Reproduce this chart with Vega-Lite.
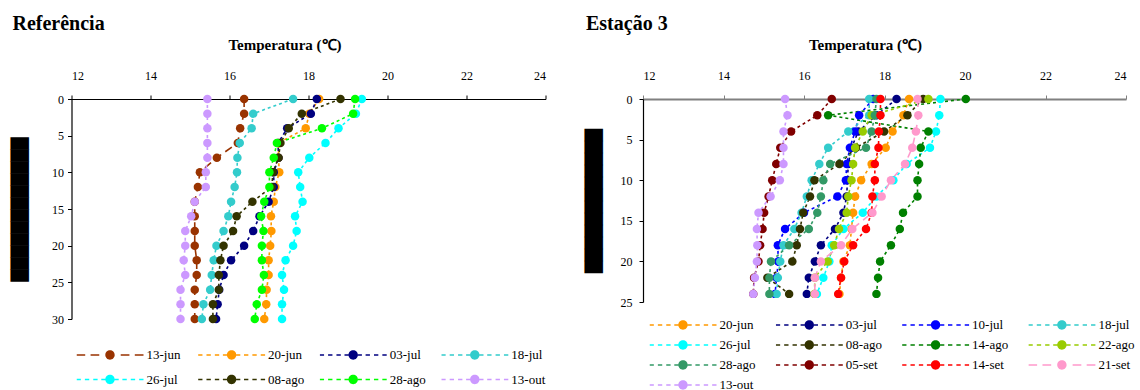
{
  "$schema": "https://vega.github.io/schema/vega-lite/v6.json",
  "background": "white",
  "padding": {"left": 12.5, "top": 13, "right": 0, "bottom": 0},
  "spacing": 39.5,
  "config": {
    "font": "Liberation Serif",
    "view": {"stroke": null},
    "title": {"font": "Liberation Serif", "fontSize": 20, "fontWeight": "bold", "color": "black", "anchor": "start", "frame": "bounds", "offset": 4},
    "axis": {
      "grid": false,
      "labelFont": "Liberation Serif", "labelFontSize": 12, "labelColor": "black",
      "domainColor": "black", "tickColor": "black", "tickSize": 4, "domainWidth": 1.2,
      "titleColor": "black"
    },
    "axisX": {"titleFont": "Liberation Serif", "titleFontSize": 15, "titleFontWeight": "bold", "titleAlign": "center", "labelPadding": 12.5, "titlePadding": 17},
    "axisY": {"titleFont": "DejaVu Sans", "titleFontSize": 15.6, "titleFontWeight": "normal", "titlePadding": 24, "labelPadding": 4},
    "legend": {
      "orient": "none", "direction": "horizontal", "columns": 4, "gridAlign": "all", "padding": 0,
      "labelFont": "Liberation Serif", "labelFontSize": 13, "labelColor": "black",
      "labelOffset": 3, "clipHeight": 14,
      "symbolSize": 4489, "symbolStrokeWidth": 0, "symbolOpacity": 1, "title": null
    }
  },
  "datasets": {
    "ref": [
      {"s": "13-jun", "d": 0, "t": 16.37}, {"s": "13-jun", "d": 2, "t": 16.37}, {"s": "13-jun", "d": 4, "t": 16.27}, {"s": "13-jun", "d": 6, "t": 16.21},
      {"s": "13-jun", "d": 8, "t": 15.68}, {"s": "13-jun", "d": 10, "t": 15.25}, {"s": "13-jun", "d": 12, "t": 15.2}, {"s": "13-jun", "d": 14, "t": 15.12},
      {"s": "13-jun", "d": 16, "t": 15.12}, {"s": "13-jun", "d": 18, "t": 15.12}, {"s": "13-jun", "d": 20, "t": 15.12}, {"s": "13-jun", "d": 22, "t": 15.17},
      {"s": "13-jun", "d": 24, "t": 15.17}, {"s": "13-jun", "d": 26, "t": 15.12}, {"s": "13-jun", "d": 28, "t": 15.12}, {"s": "13-jun", "d": 30, "t": 15.12},
      {"s": "20-jun", "d": 0, "t": 18.27}, {"s": "20-jun", "d": 2, "t": 18.02}, {"s": "20-jun", "d": 4, "t": 17.93}, {"s": "20-jun", "d": 6, "t": 17.24},
      {"s": "20-jun", "d": 8, "t": 17.24}, {"s": "20-jun", "d": 10, "t": 17.26}, {"s": "20-jun", "d": 12, "t": 17.16}, {"s": "20-jun", "d": 14, "t": 17.12},
      {"s": "20-jun", "d": 16, "t": 17.05}, {"s": "20-jun", "d": 18, "t": 17.06}, {"s": "20-jun", "d": 20, "t": 17.03}, {"s": "20-jun", "d": 22, "t": 16.99},
      {"s": "20-jun", "d": 24, "t": 16.99}, {"s": "20-jun", "d": 26, "t": 16.94}, {"s": "20-jun", "d": 28, "t": 16.93}, {"s": "20-jun", "d": 30, "t": 16.88},
      {"s": "03-jul", "d": 0, "t": 18.21}, {"s": "03-jul", "d": 2, "t": 18.06}, {"s": "03-jul", "d": 4, "t": 17.46}, {"s": "03-jul", "d": 6, "t": 17.23},
      {"s": "03-jul", "d": 8, "t": 17.24}, {"s": "03-jul", "d": 10, "t": 17.12}, {"s": "03-jul", "d": 12, "t": 17.12}, {"s": "03-jul", "d": 14, "t": 16.99},
      {"s": "03-jul", "d": 16, "t": 16.76}, {"s": "03-jul", "d": 18, "t": 16.6}, {"s": "03-jul", "d": 20, "t": 16.37}, {"s": "03-jul", "d": 22, "t": 16.04},
      {"s": "03-jul", "d": 24, "t": 15.85}, {"s": "03-jul", "d": 26, "t": 15.74}, {"s": "03-jul", "d": 28, "t": 15.7}, {"s": "03-jul", "d": 30, "t": 15.66},
      {"s": "18-jul", "d": 0, "t": 17.61}, {"s": "18-jul", "d": 2, "t": 16.6}, {"s": "18-jul", "d": 4, "t": 16.56}, {"s": "18-jul", "d": 6, "t": 16.26},
      {"s": "18-jul", "d": 8, "t": 16.2}, {"s": "18-jul", "d": 10, "t": 16.19}, {"s": "18-jul", "d": 12, "t": 16.13}, {"s": "18-jul", "d": 14, "t": 16.04},
      {"s": "18-jul", "d": 16, "t": 15.97}, {"s": "18-jul", "d": 18, "t": 15.85}, {"s": "18-jul", "d": 20, "t": 15.67}, {"s": "18-jul", "d": 22, "t": 15.6},
      {"s": "18-jul", "d": 24, "t": 15.55}, {"s": "18-jul", "d": 26, "t": 15.51}, {"s": "18-jul", "d": 28, "t": 15.34}, {"s": "18-jul", "d": 30, "t": 15.3},
      {"s": "26-jul", "d": 0, "t": 19.35}, {"s": "26-jul", "d": 2, "t": 19.2}, {"s": "26-jul", "d": 4, "t": 18.76}, {"s": "26-jul", "d": 6, "t": 18.43},
      {"s": "26-jul", "d": 8, "t": 18.02}, {"s": "26-jul", "d": 10, "t": 17.74}, {"s": "26-jul", "d": 12, "t": 17.79}, {"s": "26-jul", "d": 14, "t": 17.85},
      {"s": "26-jul", "d": 16, "t": 17.66}, {"s": "26-jul", "d": 18, "t": 17.7}, {"s": "26-jul", "d": 20, "t": 17.61}, {"s": "26-jul", "d": 22, "t": 17.42},
      {"s": "26-jul", "d": 24, "t": 17.33}, {"s": "26-jul", "d": 26, "t": 17.38}, {"s": "26-jul", "d": 28, "t": 17.33}, {"s": "26-jul", "d": 30, "t": 17.33},
      {"s": "08-ago", "d": 0, "t": 18.81}, {"s": "08-ago", "d": 2, "t": 17.83}, {"s": "08-ago", "d": 4, "t": 17.5}, {"s": "08-ago", "d": 6, "t": 17.29},
      {"s": "08-ago", "d": 8, "t": 17.24}, {"s": "08-ago", "d": 10, "t": 17.1}, {"s": "08-ago", "d": 12, "t": 17.07}, {"s": "08-ago", "d": 14, "t": 16.58},
      {"s": "08-ago", "d": 16, "t": 16.18}, {"s": "08-ago", "d": 18, "t": 16.09}, {"s": "08-ago", "d": 20, "t": 15.85}, {"s": "08-ago", "d": 22, "t": 15.77},
      {"s": "08-ago", "d": 24, "t": 15.73}, {"s": "08-ago", "d": 26, "t": 15.73}, {"s": "08-ago", "d": 28, "t": 15.58}, {"s": "08-ago", "d": 30, "t": 15.58},
      {"s": "28-ago", "d": 0, "t": 19.18}, {"s": "28-ago", "d": 2, "t": 19.13}, {"s": "28-ago", "d": 4, "t": 18.34}, {"s": "28-ago", "d": 6, "t": 17.2},
      {"s": "28-ago", "d": 8, "t": 17.12}, {"s": "28-ago", "d": 10, "t": 17.01}, {"s": "28-ago", "d": 12, "t": 17.01}, {"s": "28-ago", "d": 14, "t": 16.88},
      {"s": "28-ago", "d": 16, "t": 16.8}, {"s": "28-ago", "d": 18, "t": 16.86}, {"s": "28-ago", "d": 20, "t": 16.82}, {"s": "28-ago", "d": 22, "t": 16.82},
      {"s": "28-ago", "d": 24, "t": 16.87}, {"s": "28-ago", "d": 26, "t": 16.82}, {"s": "28-ago", "d": 28, "t": 16.69}, {"s": "28-ago", "d": 30, "t": 16.64},
      {"s": "13-out", "d": 0, "t": 15.44}, {"s": "13-out", "d": 2, "t": 15.44}, {"s": "13-out", "d": 4, "t": 15.44}, {"s": "13-out", "d": 6, "t": 15.44},
      {"s": "13-out", "d": 8, "t": 15.44}, {"s": "13-out", "d": 10, "t": 15.4}, {"s": "13-out", "d": 12, "t": 15.4}, {"s": "13-out", "d": 14, "t": 15.12},
      {"s": "13-out", "d": 16, "t": 15.03}, {"s": "13-out", "d": 18, "t": 14.88}, {"s": "13-out", "d": 20, "t": 14.88}, {"s": "13-out", "d": 22, "t": 14.84},
      {"s": "13-out", "d": 24, "t": 14.88}, {"s": "13-out", "d": 26, "t": 14.76}, {"s": "13-out", "d": 28, "t": 14.76}, {"s": "13-out", "d": 30, "t": 14.76}
    ],
    "e3": [
      {"s": "20-jun", "d": 0, "t": 18.61}, {"s": "20-jun", "d": 2, "t": 18.47}, {"s": "20-jun", "d": 4, "t": 18.2}, {"s": "20-jun", "d": 6, "t": 18.03},
      {"s": "20-jun", "d": 8, "t": 17.68}, {"s": "20-jun", "d": 10, "t": 17.42}, {"s": "20-jun", "d": 12, "t": 17.27}, {"s": "20-jun", "d": 14, "t": 17.22},
      {"s": "20-jun", "d": 16, "t": 17.18}, {"s": "20-jun", "d": 18, "t": 17.14}, {"s": "20-jun", "d": 20, "t": 16.98}, {"s": "20-jun", "d": 22, "t": 16.92},
      {"s": "20-jun", "d": 24, "t": 16.88},
      {"s": "03-jul", "d": 0, "t": 18.3}, {"s": "03-jul", "d": 2, "t": 17.8}, {"s": "03-jul", "d": 4, "t": 17.35}, {"s": "03-jul", "d": 6, "t": 17.18},
      {"s": "03-jul", "d": 8, "t": 17.1}, {"s": "03-jul", "d": 10, "t": 17.08}, {"s": "03-jul", "d": 12, "t": 17.06}, {"s": "03-jul", "d": 14, "t": 16.98},
      {"s": "03-jul", "d": 16, "t": 16.77}, {"s": "03-jul", "d": 18, "t": 16.42}, {"s": "03-jul", "d": 20, "t": 16.27}, {"s": "03-jul", "d": 22, "t": 16.12},
      {"s": "03-jul", "d": 24, "t": 16.07},
      {"s": "10-jul", "d": 0, "t": 17.72}, {"s": "10-jul", "d": 2, "t": 17.37}, {"s": "10-jul", "d": 4, "t": 17.27}, {"s": "10-jul", "d": 6, "t": 17.14},
      {"s": "10-jul", "d": 8, "t": 17.06}, {"s": "10-jul", "d": 10, "t": 17.04}, {"s": "10-jul", "d": 12, "t": 16.83}, {"s": "10-jul", "d": 14, "t": 16.0},
      {"s": "10-jul", "d": 16, "t": 15.53}, {"s": "10-jul", "d": 18, "t": 15.35}, {"s": "10-jul", "d": 20, "t": 15.36}, {"s": "10-jul", "d": 22, "t": 15.32},
      {"s": "10-jul", "d": 24, "t": 15.28},
      {"s": "18-jul", "d": 0, "t": 17.62}, {"s": "18-jul", "d": 2, "t": 17.62}, {"s": "18-jul", "d": 4, "t": 17.1}, {"s": "18-jul", "d": 6, "t": 16.6},
      {"s": "18-jul", "d": 8, "t": 16.38}, {"s": "18-jul", "d": 10, "t": 16.19}, {"s": "18-jul", "d": 12, "t": 16.07}, {"s": "18-jul", "d": 14, "t": 15.94},
      {"s": "18-jul", "d": 16, "t": 15.76}, {"s": "18-jul", "d": 18, "t": 15.49}, {"s": "18-jul", "d": 20, "t": 15.41}, {"s": "18-jul", "d": 22, "t": 15.35},
      {"s": "18-jul", "d": 24, "t": 15.32},
      {"s": "26-jul", "d": 0, "t": 19.39}, {"s": "26-jul", "d": 2, "t": 19.36}, {"s": "26-jul", "d": 4, "t": 19.28}, {"s": "26-jul", "d": 6, "t": 19.13},
      {"s": "26-jul", "d": 8, "t": 18.55}, {"s": "26-jul", "d": 10, "t": 18.22}, {"s": "26-jul", "d": 12, "t": 17.8}, {"s": "26-jul", "d": 14, "t": 17.46},
      {"s": "26-jul", "d": 16, "t": 16.98}, {"s": "26-jul", "d": 18, "t": 16.69}, {"s": "26-jul", "d": 20, "t": 16.63}, {"s": "26-jul", "d": 22, "t": 16.48},
      {"s": "26-jul", "d": 24, "t": 16.32},
      {"s": "08-ago", "d": 0, "t": 18.96}, {"s": "08-ago", "d": 2, "t": 18.57}, {"s": "08-ago", "d": 4, "t": 17.99}, {"s": "08-ago", "d": 6, "t": 17.29},
      {"s": "08-ago", "d": 8, "t": 16.88}, {"s": "08-ago", "d": 10, "t": 16.26}, {"s": "08-ago", "d": 12, "t": 16.15}, {"s": "08-ago", "d": 14, "t": 15.98},
      {"s": "08-ago", "d": 16, "t": 15.9}, {"s": "08-ago", "d": 18, "t": 15.82}, {"s": "08-ago", "d": 20, "t": 15.71}, {"s": "08-ago", "d": 22, "t": 15.09},
      {"s": "08-ago", "d": 24, "t": 15.63},
      {"s": "14-ago", "d": 0, "t": 20.02}, {"s": "14-ago", "d": 2, "t": 16.6}, {"s": "14-ago", "d": 4, "t": 19.09}, {"s": "14-ago", "d": 6, "t": 18.9},
      {"s": "14-ago", "d": 8, "t": 18.86}, {"s": "14-ago", "d": 10, "t": 18.82}, {"s": "14-ago", "d": 12, "t": 18.82}, {"s": "14-ago", "d": 14, "t": 18.46},
      {"s": "14-ago", "d": 16, "t": 18.38}, {"s": "14-ago", "d": 18, "t": 18.16}, {"s": "14-ago", "d": 20, "t": 17.89}, {"s": "14-ago", "d": 22, "t": 17.84},
      {"s": "14-ago", "d": 24, "t": 17.8},
      {"s": "22-ago", "d": 0, "t": 19.09}, {"s": "22-ago", "d": 2, "t": 17.68}, {"s": "22-ago", "d": 4, "t": 17.46}, {"s": "22-ago", "d": 6, "t": 17.27},
      {"s": "22-ago", "d": 8, "t": 17.22}, {"s": "22-ago", "d": 10, "t": 17.18}, {"s": "22-ago", "d": 12, "t": 17.1}, {"s": "22-ago", "d": 14, "t": 17.06},
      {"s": "22-ago", "d": 16, "t": 16.87}, {"s": "22-ago", "d": 18, "t": 16.75}, {"s": "22-ago", "d": 20, "t": 16.59}, {"s": "22-ago", "d": 22, "t": 16.27},
      {"s": "22-ago", "d": 24, "t": 16.26},
      {"s": "28-ago", "d": 0, "t": 17.8}, {"s": "28-ago", "d": 2, "t": 17.76}, {"s": "28-ago", "d": 4, "t": 17.68}, {"s": "28-ago", "d": 6, "t": 17.54},
      {"s": "28-ago", "d": 8, "t": 16.65}, {"s": "28-ago", "d": 10, "t": 16.48}, {"s": "28-ago", "d": 12, "t": 16.42}, {"s": "28-ago", "d": 14, "t": 16.33},
      {"s": "28-ago", "d": 16, "t": 16.12}, {"s": "28-ago", "d": 18, "t": 15.63}, {"s": "28-ago", "d": 20, "t": 15.18}, {"s": "28-ago", "d": 22, "t": 15.14},
      {"s": "28-ago", "d": 24, "t": 15.14},
      {"s": "05-set", "d": 0, "t": 16.69}, {"s": "05-set", "d": 2, "t": 16.33}, {"s": "05-set", "d": 4, "t": 15.68}, {"s": "05-set", "d": 6, "t": 15.41},
      {"s": "05-set", "d": 8, "t": 15.31}, {"s": "05-set", "d": 10, "t": 15.21}, {"s": "05-set", "d": 12, "t": 15.12}, {"s": "05-set", "d": 14, "t": 15.01},
      {"s": "05-set", "d": 16, "t": 14.97}, {"s": "05-set", "d": 18, "t": 14.91}, {"s": "05-set", "d": 20, "t": 14.87}, {"s": "05-set", "d": 22, "t": 14.76},
      {"s": "05-set", "d": 24, "t": 14.74},
      {"s": "14-set", "d": 0, "t": 17.9}, {"s": "14-set", "d": 2, "t": 17.9}, {"s": "14-set", "d": 4, "t": 17.86}, {"s": "14-set", "d": 6, "t": 17.85},
      {"s": "14-set", "d": 8, "t": 17.76}, {"s": "14-set", "d": 10, "t": 17.76}, {"s": "14-set", "d": 12, "t": 17.7}, {"s": "14-set", "d": 14, "t": 17.68},
      {"s": "14-set", "d": 16, "t": 17.54}, {"s": "14-set", "d": 18, "t": 17.22}, {"s": "14-set", "d": 20, "t": 17.0}, {"s": "14-set", "d": 22, "t": 16.92},
      {"s": "14-set", "d": 24, "t": 16.85},
      {"s": "21-set", "d": 0, "t": 18.82}, {"s": "21-set", "d": 2, "t": 18.84}, {"s": "21-set", "d": 4, "t": 18.78}, {"s": "21-set", "d": 6, "t": 18.69},
      {"s": "21-set", "d": 8, "t": 18.51}, {"s": "21-set", "d": 10, "t": 18.16}, {"s": "21-set", "d": 12, "t": 17.93}, {"s": "21-set", "d": 14, "t": 17.7},
      {"s": "21-set", "d": 16, "t": 17.2}, {"s": "21-set", "d": 18, "t": 16.92}, {"s": "21-set", "d": 20, "t": 16.42}, {"s": "21-set", "d": 22, "t": 16.27},
      {"s": "21-set", "d": 24, "t": 16.27},
      {"s": "13-out", "d": 0, "t": 15.53}, {"s": "13-out", "d": 2, "t": 15.59}, {"s": "13-out", "d": 4, "t": 15.49}, {"s": "13-out", "d": 6, "t": 15.49},
      {"s": "13-out", "d": 8, "t": 15.49}, {"s": "13-out", "d": 10, "t": 15.4}, {"s": "13-out", "d": 12, "t": 15.17}, {"s": "13-out", "d": 14, "t": 14.87},
      {"s": "13-out", "d": 16, "t": 14.83}, {"s": "13-out", "d": 18, "t": 14.84}, {"s": "13-out", "d": 20, "t": 14.83}, {"s": "13-out", "d": 22, "t": 14.78},
      {"s": "13-out", "d": 24, "t": 14.74}
    ]
  },
  "hconcat": [
    {
      "title": "Referência",
      "width": 474,
      "height": 220,
      "data": {"name": "ref"},
      "encoding": {
        "x": {
          "field": "t", "type": "quantitative",
          "scale": {"domain": [12, 24], "nice": false, "zero": false, "padding": 0},
          "axis": {"orient": "top", "values": [12, 14, 16, 18, 20, 22, 24], "title": "Temperatura (℃)", "titleX": 213}
        },
        "y": {
          "field": "d", "type": "quantitative",
          "scale": {"domain": [0, 30], "reverse": true, "nice": false, "padding": 0},
          "axis": {"values": [0, 5, 10, 15, 20, 25, 30], "title": "████████████"}
        },
        "color": {
          "field": "s", "type": "nominal",
          "scale": {
            "domain": ["13-jun", "20-jun", "03-jul", "18-jul", "26-jul", "08-ago", "28-ago", "13-out"],
            "range": ["#993300", "#FF9900", "#000080", "#33CCCC", "#00FFFF", "#333300", "#00FF00", "#CC99FF"]
          },
          "legend": {
            "legendX": 5, "legendY": 249, "rowPadding": 10.5, "columnPadding": 14.6, "padding": 0,
            "encode": {"symbols": {"update": {"shape": {"signal": "datum.value === '13-jun' ? 'M-1,-0.026H-0.74V0.026H-1Z M-0.58,-0.026H-0.32V0.026H-0.58Z M0.32,-0.026H0.58V0.026H0.32Z M0.74,-0.026H1V0.026H0.74Z M-0.14,0A0.14,0.14 0 1 1 0.14,0A0.14,0.14 0 1 1 -0.14,0Z' : 'M-1,-0.026H-0.87V0.026H-1Z M-0.75,-0.026H-0.62V0.026H-0.75Z M-0.5,-0.026H-0.37V0.026H-0.5Z M-0.26,-0.026H-0.14V0.026H-0.26Z M0.14,-0.026H0.26V0.026H0.14Z M0.37,-0.026H0.5V0.026H0.37Z M0.62,-0.026H0.75V0.026H0.62Z M0.87,-0.026H1V0.026H0.87Z M-0.14,0A0.14,0.14 0 1 1 0.14,0A0.14,0.14 0 1 1 -0.14,0Z'"}}}}
          }
        }
      },
      "layer": [
        {
          "mark": {"type": "line", "strokeWidth": 1.6},
          "encoding": {
            "order": {"field": "d", "type": "quantitative"},
            "strokeDash": {
              "field": "s", "type": "nominal", "legend": null,
              "scale": {
                "domain": ["13-jun", "20-jun", "03-jul", "18-jul", "26-jul", "08-ago", "28-ago", "13-out"],
                "range": [[8, 5], [3, 3], [3, 3], [3, 3], [3, 3], [3, 3], [3, 3], [3, 3]]
              }
            }
          }
        },
        {"mark": {"type": "point", "filled": true, "size": 72, "opacity": 1}}
      ]
    },
    {
      "title": "Estação 3",
      "width": 483,
      "height": 203,
      "data": {"name": "e3"},
      "encoding": {
        "x": {
          "field": "t", "type": "quantitative",
          "scale": {"domain": [12, 24], "nice": false, "zero": false, "padding": 0},
          "axis": {"orient": "top", "values": [12, 14, 16, 18, 20, 22, 24], "title": "Temperatura (℃)", "titleX": 222, "domainColor": "#808080", "domainWidth": 2, "tickColor": "#808080"}
        },
        "y": {
          "field": "d", "type": "quantitative",
          "scale": {"domain": [0, 25], "reverse": true, "nice": false, "padding": 0},
          "axis": {"values": [0, 5, 10, 15, 20, 25], "title": "████████████", "labelPadding": 7, "titlePadding": 19}
        },
        "color": {
          "field": "s", "type": "nominal",
          "scale": {
            "domain": ["20-jun", "03-jul", "10-jul", "18-jul", "26-jul", "08-ago", "14-ago", "22-ago", "28-ago", "05-set", "14-set", "21-set", "13-out"],
            "range": ["#FF9900", "#000080", "#0000FF", "#33CCCC", "#00FFFF", "#333300", "#008000", "#99CC00", "#339966", "#800000", "#FF0000", "#FF99CC", "#CC99FF"]
          },
          "legend": {
            "legendX": 6.5, "legendY": 219, "rowPadding": 6, "columnPadding": 19.3, "padding": 0,
            "encode": {"symbols": {"update": {"shape": {"signal": "datum.value === '21-set' ? 'M-1,-0.026H-0.74V0.026H-1Z M-0.58,-0.026H-0.32V0.026H-0.58Z M0.32,-0.026H0.58V0.026H0.32Z M0.74,-0.026H1V0.026H0.74Z M-0.14,0A0.14,0.14 0 1 1 0.14,0A0.14,0.14 0 1 1 -0.14,0Z' : 'M-1,-0.026H-0.87V0.026H-1Z M-0.75,-0.026H-0.62V0.026H-0.75Z M-0.5,-0.026H-0.37V0.026H-0.5Z M-0.26,-0.026H-0.14V0.026H-0.26Z M0.14,-0.026H0.26V0.026H0.14Z M0.37,-0.026H0.5V0.026H0.37Z M0.62,-0.026H0.75V0.026H0.62Z M0.87,-0.026H1V0.026H0.87Z M-0.14,0A0.14,0.14 0 1 1 0.14,0A0.14,0.14 0 1 1 -0.14,0Z'"}}}}
          }
        }
      },
      "layer": [
        {
          "mark": {"type": "line", "strokeWidth": 1.6},
          "encoding": {
            "order": {"field": "d", "type": "quantitative"},
            "strokeDash": {
              "field": "s", "type": "nominal", "legend": null,
              "scale": {
                "domain": ["20-jun", "03-jul", "10-jul", "18-jul", "26-jul", "08-ago", "14-ago", "22-ago", "28-ago", "05-set", "14-set", "21-set", "13-out"],
                "range": [[3, 3], [3, 3], [3, 3], [3, 3], [3, 3], [3, 3], [3, 3], [3, 3], [3, 3], [3, 3], [3, 3], [8, 5], [3, 3]]
              }
            }
          }
        },
        {"mark": {"type": "point", "filled": true, "size": 72, "opacity": 1}}
      ]
    }
  ],
  "resolve": {"scale": {"color": "independent", "strokeDash": "independent"}, "legend": {"color": "independent"}}
}
